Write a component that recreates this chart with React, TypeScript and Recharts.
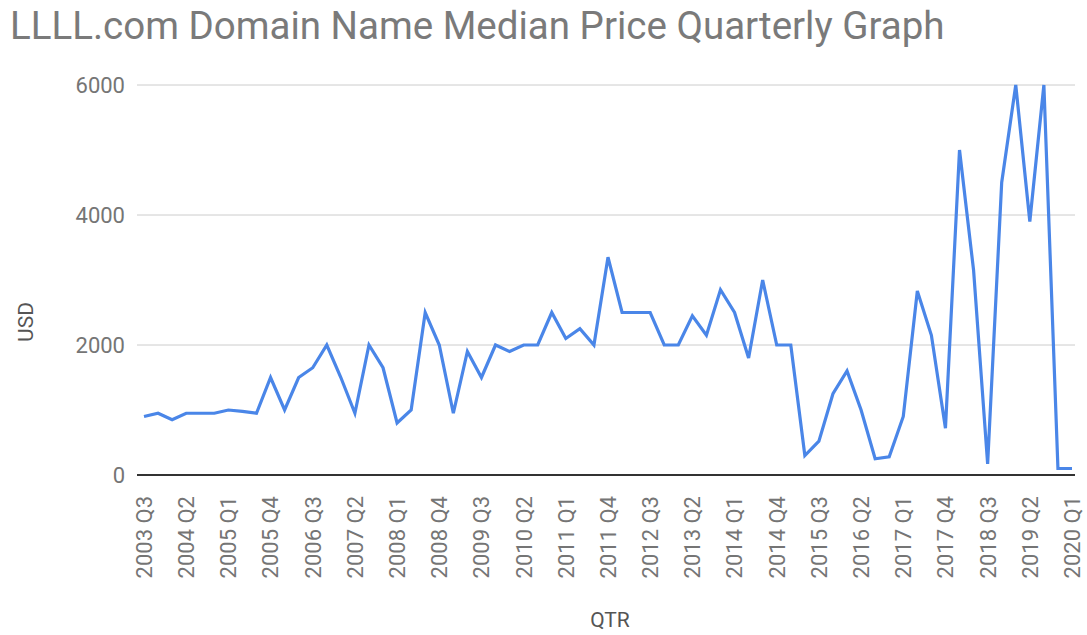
import React from 'react';
import { LineChart, Line, XAxis, YAxis, CartesianGrid } from 'recharts';

const quarters = [
	'2003 Q3', '2003 Q4',
	'2004 Q1', '2004 Q2', '2004 Q3', '2004 Q4',
	'2005 Q1', '2005 Q2', '2005 Q3', '2005 Q4',
	'2006 Q1', '2006 Q2', '2006 Q3', '2006 Q4',
	'2007 Q1', '2007 Q2', '2007 Q3', '2007 Q4',
	'2008 Q1', '2008 Q2', '2008 Q3', '2008 Q4',
	'2009 Q1', '2009 Q2', '2009 Q3', '2009 Q4',
	'2010 Q1', '2010 Q2', '2010 Q3', '2010 Q4',
	'2011 Q1', '2011 Q2', '2011 Q3', '2011 Q4',
	'2012 Q1', '2012 Q2', '2012 Q3', '2012 Q4',
	'2013 Q1', '2013 Q2', '2013 Q3', '2013 Q4',
	'2014 Q1', '2014 Q2', '2014 Q3', '2014 Q4',
	'2015 Q1', '2015 Q2', '2015 Q3', '2015 Q4',
	'2016 Q1', '2016 Q2', '2016 Q3', '2016 Q4',
	'2017 Q1', '2017 Q2', '2017 Q3', '2017 Q4',
	'2018 Q1', '2018 Q2', '2018 Q3', '2018 Q4',
	'2019 Q1', '2019 Q2', '2019 Q3', '2019 Q4',
	'2020 Q1',
];

const medianUsd = [
	900, 950,
	850, 950, 950, 950,
	1000, 980, 950, 1500,
	1000, 1500, 1650, 2000,
	1500, 950, 2000, 1650,
	800, 1000, 2500, 2000,
	950, 1900, 1500, 2000,
	1900, 2000, 2000, 2500,
	2100, 2250, 2000, 3350,
	2500, 2500, 2500, 2000,
	2000, 2450, 2150, 2850,
	2500, 1800, 3000, 2000,
	2000, 300, 520, 1250,
	1600, 1000, 250, 280,
	900, 2830, 2150, 720,
	5000, 3150, 170, 4500,
	6000, 3900, 6000, 100,
	100,
];

const yTicks = [0, 2000, 4000, 6000];

const data = quarters.map((qtr, i) => ({ qtr, usd: medianUsd[i] }));

const FONT = 'Roboto, "Noto Sans", sans-serif';
const GREY = '#757575';

const QtrTick = (props: any) => {
	const { x, y, payload } = props;
	return (
		<text
			x={x}
			y={y + 13}
			transform={`rotate(-90, ${x}, ${y + 13})`}
			textAnchor='end'
			dy='0.36em'
			fill={GREY}
			fontSize={22}
			fontFamily={FONT}
		>
			{payload.value}
		</text>
	);
};

export default function App() {
	return (
		<div style={{ position: 'absolute', left: 0, top: 0, width: 1087, height: 635, background: '#fff' }}>
			<div
				style={{
					position: 'absolute',
					left: 10,
					top: 3,
					fontFamily: FONT,
					fontSize: 38.5,
					color: '#7a7a7a',
					whiteSpace: 'nowrap',
				}}
			>
				LLLL.com Domain Name Median Price Quarterly Graph
			</div>
			<div
				style={{
					position: 'absolute',
					left: 26,
					top: 322,
					transform: 'translate(-50%, -50%) rotate(-90deg)',
					fontFamily: FONT,
					fontSize: 21,
					color: '#555',
				}}
			>
				USD
			</div>
			<div
				style={{
					position: 'absolute',
					left: 610,
					top: 620,
					transform: 'translate(-50%, -50%)',
					fontFamily: FONT,
					fontSize: 21,
					color: '#555',
				}}
			>
				QTR
			</div>
			<LineChart
				width={1087}
				height={635}
				data={data}
				margin={{ top: 85, right: 12, bottom: 60, left: 10 }}
			>
				<CartesianGrid vertical={false} stroke='#cccccc' />
				<XAxis
					dataKey='qtr'
					interval={2}
					height={100}
					padding={{ left: 7, right: 3 }}
					axisLine={{ stroke: '#333', strokeWidth: 2 }}
					tickLine={false}
					tick={<QtrTick />}
				/>
				<YAxis
					width={127}
					domain={[0, 6000]}
					ticks={yTicks}
					axisLine={false}
					tickLine={false}
					tickMargin={6}
					tick={{ fill: GREY, fontSize: 22, fontFamily: FONT }}
				/>
				<Line
					type='linear'
					dataKey='usd'
					stroke='#4a86e8'
					strokeWidth={3.2}
					dot={false}
					isAnimationActive={false}
				/>
			</LineChart>
		</div>
	);
}
